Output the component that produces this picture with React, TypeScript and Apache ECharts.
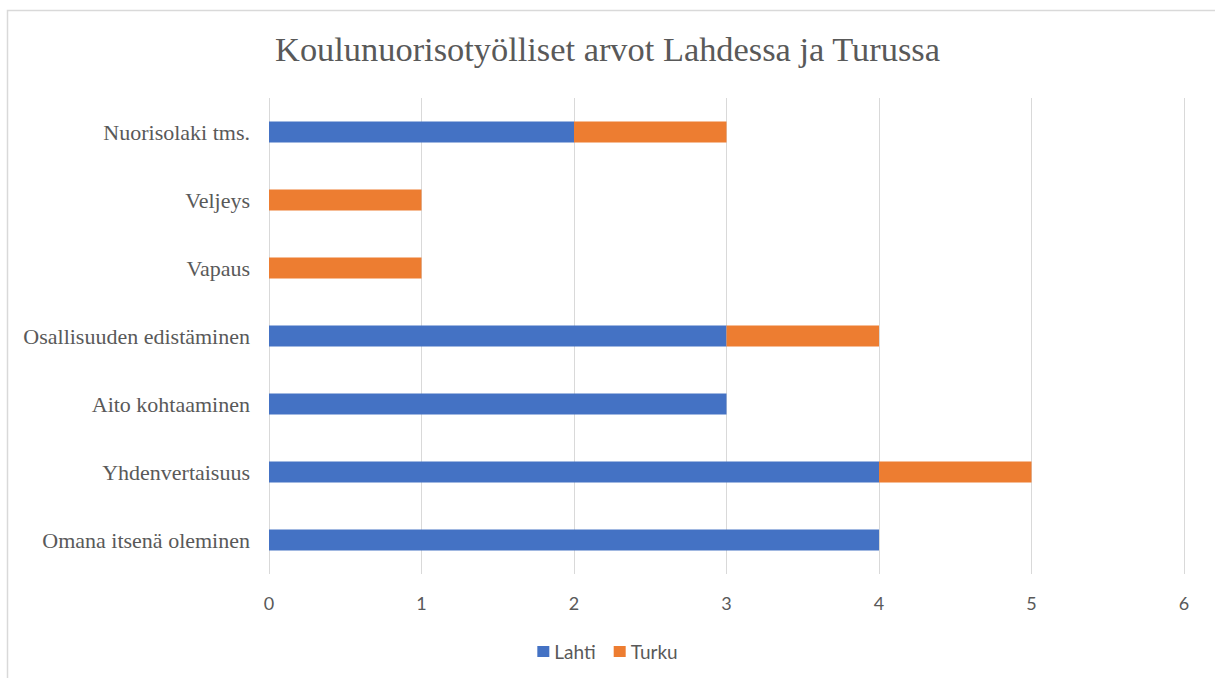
import React, { useEffect, useRef } from "react";
import * as echarts from "echarts";

const categories = [
  "Omana itsenä oleminen",
  "Yhdenvertaisuus",
  "Aito kohtaaminen",
  "Osallisuuden edistäminen",
  "Vapaus",
  "Veljeys",
  "Nuorisolaki tms.",
];
const lahti = [4, 4, 3, 3, 0, 0, 2];
const turku = [0, 1, 0, 1, 1, 1, 1];
const titleText = "Koulunuorisotyölliset arvot Lahdessa ja Turussa";

export default function App() {
  const ref = useRef<HTMLDivElement>(null);
  useEffect(() => {
    if (!ref.current) return;
    const chart = echarts.init(ref.current, undefined, { renderer: "svg" });
    chart.setOption({
      animation: false,
      backgroundColor: "#ffffff",
      title: {
        text: titleText,
        left: "center",
        top: 27,
        textStyle: {
          fontFamily: "Liberation Serif",
          fontSize: 34.4,
          fontWeight: "normal",
          color: "#595959",
        },
      },
      graphic: [
        {
          type: "rect",
          shape: { x: 7.5, y: 10.5, width: 1230, height: 700 },
          style: { fill: "none", stroke: "#d9d9d9", lineWidth: 1.5 },
          silent: true,
        },
      ],
      legend: {
        top: 637,
        left: "center",
        itemWidth: 12,
        itemHeight: 11,
        itemGap: 18,
        icon: "rect",
        textStyle: { fontFamily: "Lato", fontSize: 19, color: "#595959" },
        data: ["Lahti", "Turku"],
      },
      grid: { left: 269, right: 31, top: 98, bottom: 104, containLabel: false },
      xAxis: {
        type: "value",
        min: 0,
        max: 6,
        interval: 1,
        axisLine: { show: false },
        axisTick: { show: false },
        splitLine: { show: true, lineStyle: { color: "#d9d9d9", width: 1 } },
        axisLabel: {
          margin: 20,
          fontFamily: "Lato",
          fontSize: 18,
          color: "#595959",
        },
      },
      yAxis: {
        type: "category",
        data: categories,
        axisLine: { show: false },
        axisTick: { show: false },
        axisLabel: {
          margin: 19,
          fontFamily: "Liberation Serif",
          fontSize: 22,
          color: "#595959",
        },
      },
      series: [
        {
          name: "Lahti",
          type: "bar",
          stack: "total",
          data: lahti,
          barWidth: 21,
          itemStyle: { color: "#4472c4" },
        },
        {
          name: "Turku",
          type: "bar",
          stack: "total",
          data: turku,
          barWidth: 21,
          itemStyle: { color: "#ed7d31" },
        },
      ],
    });
    return () => chart.dispose();
  }, []);
  return (
    <div
      ref={ref}
      style={{ position: "fixed", left: 0, top: 0, width: 1215, height: 678 }}
    />
  );
}
